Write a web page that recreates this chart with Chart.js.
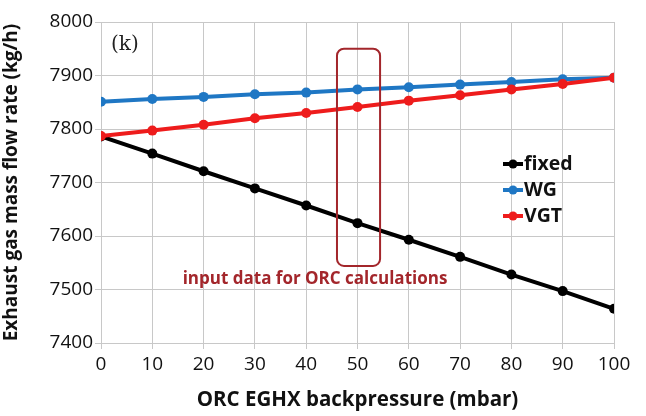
<!DOCTYPE html>
<html>
<head>
<meta charset="utf-8">
<script src="https://cdn.jsdelivr.net/npm/chart.js@4/dist/chart.umd.min.js"></script>
<style>
  body { margin: 0; background: #fff; }
  canvas { display: block; }
</style>
</head>
<body>
<canvas id="myChart" width="646" height="416"></canvas>
<script>
const backpressure = [0, 10, 20, 30, 40, 50, 60, 70, 80, 90, 100];
const fixedFlow = [7786, 7754, 7721, 7689, 7657, 7624, 7593, 7561, 7528, 7497, 7464];
const wgFlow = [7851, 7856, 7860, 7865, 7868, 7874, 7878, 7883, 7888, 7893, 7896];
const vgtFlow = [7787, 7797, 7808, 7820, 7830, 7841, 7853, 7863, 7874, 7884, 7896];
const seriesNames = ["fixed", "WG", "VGT"];
const seriesColors = ["#000000", "#1f77c4", "#ee1c1c"];
const yTicks = [7400, 7500, 7600, 7700, 7800, 7900, 8000];

// box around the 50 mbar point and its caption
const boxRange = { x0: 46, x1: 54.4, y0: 7950, y1: 7544 };
const caption = "input data for ORC calculations";
const boxColor = "#a3262b";

const FONT = "'Open Sans', sans-serif";

const overlay = {
  id: "overlay",
  afterDatasetsDraw(chart) {
    const { ctx, scales } = chart;
    const x = scales.x, y = scales.y;

    // rounded box
    const l = x.getPixelForValue(boxRange.x0);
    const r = x.getPixelForValue(boxRange.x1);
    const t = y.getPixelForValue(boxRange.y0);
    const b = y.getPixelForValue(boxRange.y1);
    ctx.save();
    ctx.strokeStyle = boxColor;
    ctx.lineWidth = 2;
    ctx.beginPath();
    ctx.roundRect(l, t, r - l, b - t, 7);
    ctx.stroke();

    // caption
    ctx.fillStyle = boxColor;
    ctx.font = "bold 17px " + FONT;
    ctx.textAlign = "center";
    ctx.textBaseline = "middle";
    ctx.fillText(caption, 315, 279);

    // panel label
    ctx.fillStyle = "#222";
    ctx.font = "20px 'DejaVu Serif', 'Liberation Serif', serif";
    ctx.textAlign = "left";
    ctx.fillText("(k)", 111, 45);

    // legend
    ctx.font = "bold 19.5px " + FONT;
    ctx.textAlign = "left";
    seriesNames.forEach((name, i) => {
      const ly = 164 + i * 26;
      ctx.strokeStyle = seriesColors[i];
      ctx.lineWidth = 4;
      ctx.beginPath();
      ctx.moveTo(503, ly);
      ctx.lineTo(523, ly);
      ctx.stroke();
      ctx.fillStyle = seriesColors[i];
      ctx.beginPath();
      ctx.arc(513, ly, 4.5, 0, Math.PI * 2);
      ctx.fill();
      ctx.fillStyle = "#111";
      ctx.fillText(name, 524, ly);
    });
    ctx.restore();
  }
};

const makeSet = (i, values, order) => ({
  label: seriesNames[i],
  data: values,
  borderColor: seriesColors[i],
  backgroundColor: seriesColors[i],
  borderWidth: 4,
  pointRadius: 5,
  pointBorderWidth: 0,
  order: order,
});

new Chart(document.getElementById("myChart"), {
  type: "line",
  data: {
    labels: backpressure,
    datasets: [
      makeSet(0, fixedFlow, 2),
      makeSet(1, wgFlow, 1),
      makeSet(2, vgtFlow, 0),
    ],
  },
  options: {
    responsive: false,
    animation: false,
    layout: { padding: { top: 22, right: 32, bottom: 4, left: 0 } },
    plugins: {
      legend: { display: false },
      tooltip: { enabled: false },
    },
    scales: {
      x: {
        type: "linear",
        min: 0,
        max: 100,
        afterBuildTicks: (axis) => {
          axis.ticks = backpressure.map((v) => ({ value: v }));
        },
        afterFit: (axis) => { axis.height = 69; },
        grid: { color: "#c8c8c8", lineWidth: 1, tickLength: 6 },
        border: { color: "#c8c8c8" },
        ticks: {
          color: "#111",
          font: { family: FONT, size: 19 },
          padding: 4,
          maxRotation: 0,
        },
        title: {
          display: true,
          text: "ORC EGHX backpressure (mbar)",
          color: "#111",
          font: { family: FONT, size: 20.5, weight: "bold" },
          padding: { top: 2, bottom: 0 },
        },
      },
      y: {
        min: 7400,
        max: 8000,
        afterBuildTicks: (axis) => {
          axis.ticks = yTicks.map((v) => ({ value: v }));
        },
        afterFit: (axis) => { axis.width = 101; },
        grid: { color: "#c8c8c8", lineWidth: 1, tickLength: 6 },
        border: { color: "#c8c8c8" },
        ticks: {
          color: "#111",
          font: { family: FONT, size: 19 },
          padding: 2,
          callback: (v) => String(v),
        },
        title: {
          display: true,
          text: "Exhaust gas mass flow rate (kg/h)",
          color: "#111",
          font: { family: FONT, size: 19, weight: "bold" },
          padding: { top: 0, bottom: 2 },
        },
      },
    },
  },
  plugins: [overlay],
});
</script>
</body>
</html>
